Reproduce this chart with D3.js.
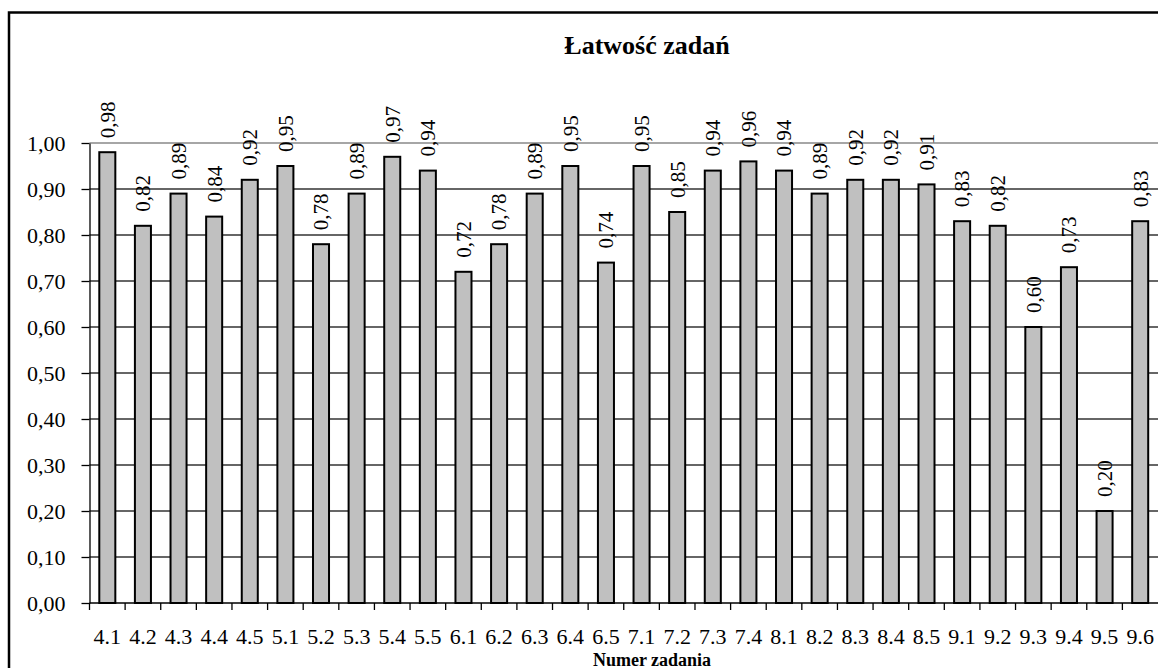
<!DOCTYPE html>
<html>
<head>
<meta charset="utf-8">
<script src="https://cdn.jsdelivr.net/npm/d3@7"></script>
<style>
    body { margin: 0; background: #fff; }
    .grid line { stroke: #333; stroke-width: 1.3; }
    .bar { fill: #c0c0c0; stroke: #000; stroke-width: 2; }
    .axis path, .axis line { stroke: #000; stroke-width: 1.3; }
</style>
</head>
<body>
<div id="chart"></div>
<script>
'use strict';

var tasks = ['4.1', '4.2', '4.3', '4.4', '4.5', '5.1', '5.2', '5.3', '5.4', '5.5',
    '6.1', '6.2', '6.3', '6.4', '6.5', '7.1', '7.2', '7.3', '7.4', '8.1',
    '8.2', '8.3', '8.4', '8.5', '9.1', '9.2', '9.3', '9.4', '9.5', '9.6'];
var easiness = [0.98, 0.82, 0.89, 0.84, 0.92, 0.95, 0.78, 0.89, 0.97, 0.94,
    0.72, 0.78, 0.89, 0.95, 0.74, 0.95, 0.85, 0.94, 0.96, 0.94,
    0.89, 0.92, 0.92, 0.91, 0.83, 0.82, 0.60, 0.73, 0.20, 0.83];
var yTicks = [0, 0.1, 0.2, 0.3, 0.4, 0.5, 0.6, 0.7, 0.8, 0.9, 1.0];

var stage = { width: 1158, height: 668 };
var plot = { left: 89.5, right: 1158, top: 143, bottom: 603 };
var serif = "'Liberation Serif', 'Times New Roman', serif";

var fmt = function(v) { return d3.format('.2f')(v).replace('.', ','); };

var svg = d3.select('#chart')
    .append('svg')
    .attr('width', stage.width)
    .attr('height', stage.height);

// outer frame (cut off at right and bottom)
svg.append('rect')
    .attr('x', 9)
    .attr('y', 12.5)
    .attr('width', stage.width + 10)
    .attr('height', stage.height + 10)
    .attr('fill', 'none')
    .attr('stroke', '#000')
    .attr('stroke-width', 2.5);

var x = d3.scaleBand()
    .domain(tasks)
    .range([plot.left, plot.right])
    .paddingInner(0.55)
    .paddingOuter(0.275);

var xTicks = d3.scaleBand()
    .domain(tasks)
    .range([plot.left, plot.right]);

var y = d3.scaleLinear()
    .domain([0, 1])
    .range([plot.bottom, plot.top]);

// grid lines
svg.append('g')
    .attr('class', 'grid')
    .selectAll('line').data(yTicks.slice(1)).enter()
    .append('line')
    .attr('x1', plot.left)
    .attr('x2', plot.right)
    .attr('y1', function(d) { return y(d); })
    .attr('y2', function(d) { return y(d); })
    .style('stroke', function(d) { return d === 1 ? '#888' : null; });

// bars
svg.append('g')
    .selectAll('rect').data(easiness).enter()
    .append('rect')
    .attr('class', 'bar')
    .attr('x', function(d, i) { return x(tasks[i]); })
    .attr('y', function(d) { return y(d); })
    .attr('width', x.bandwidth())
    .attr('height', function(d) { return y(0) - y(d); });

// value labels
svg.append('g')
    .selectAll('text').data(easiness).enter()
    .append('text')
    .attr('transform', function(d, i) {
        return 'translate(' + (x(tasks[i]) + x.bandwidth() / 2) + ',' + (y(d) - 14) + ') rotate(-90)';
    })
    .attr('dy', '0.35em')
    .style('font-family', serif)
    .style('font-size', '21px')
    .text(fmt);

// y axis
var yAxis = svg.append('g')
    .attr('class', 'axis')
    .attr('transform', 'translate(' + plot.left + ',0)')
    .call(d3.axisLeft(y).tickValues(yTicks).tickSize(8).tickSizeOuter(0).tickFormat(fmt));
yAxis.selectAll('text')
    .attr('x', -24)
    .attr('fill', '#000')
    .style('font-family', serif)
    .style('font-size', '22px');

// x axis
var xAxis = svg.append('g')
    .attr('class', 'axis')
    .attr('transform', 'translate(0,' + plot.bottom + ')');
xAxis.append('line')
    .attr('x1', plot.left)
    .attr('x2', plot.right);
xAxis.selectAll('line.tick').data(tasks).enter()
    .append('line')
    .attr('class', 'tick')
    .attr('x1', function(d) { return xTicks(d); })
    .attr('x2', function(d) { return xTicks(d); })
    .attr('y1', 0)
    .attr('y2', 7);
xAxis.selectAll('text').data(tasks).enter()
    .append('text')
    .attr('x', function(d) { return xTicks(d) + xTicks.bandwidth() / 2; })
    .attr('y', 41)
    .attr('text-anchor', 'middle')
    .style('font-family', serif)
    .style('font-size', '22px')
    .text(function(d) { return d; });

// titles
svg.append('text')
    .attr('x', 647)
    .attr('y', 54)
    .attr('text-anchor', 'middle')
    .style('font-family', serif)
    .style('font-size', '26px')
    .style('font-weight', 'bold')
    .text('Łatwość zadań');

svg.append('text')
    .attr('x', 652)
    .attr('y', 666)
    .attr('text-anchor', 'middle')
    .style('font-family', serif)
    .style('font-size', '18px')
    .style('font-weight', 'bold')
    .text('Numer zadania');
</script>
</body>
</html>
